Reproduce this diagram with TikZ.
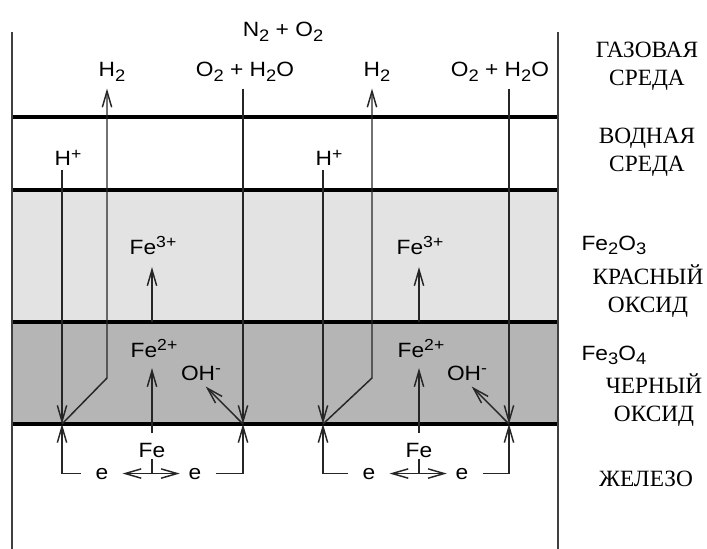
\documentclass[tikz,border=0pt]{standalone}
\usepackage{fontspec}
\setmainfont{Liberation Serif}
\setsansfont{Liberation Sans}[FakeStretch=1.1]
\usetikzlibrary{arrows.meta}

\definecolor{redox}{gray}{0.89}
\definecolor{blackox}{gray}{0.71}
\newcommand{\chsub}[1]{\raisebox{-3.5pt}{\fontsize{12.5}{13}\selectfont #1}}
\newcommand{\chsup}[1]{\raisebox{5pt}{\fontsize{12}{13}\selectfont #1}}

\tikzset{
  chem/.style={font=\sffamily\fontsize{15.5}{18}\selectfont, inner sep=1pt, anchor=base},
  layer/.style={font=\fontsize{17.5}{21}\selectfont, align=center},
  bound/.style={line width=2.4pt},
  flow/.style={line width=1.1pt, black!85, -{Straight Barb[length=12pt,width=7pt]}},
  dflow/.style={line width=1.1pt, black!85, {Straight Barb[length=12pt,width=7pt]}-{Straight Barb[length=12pt,width=7pt]}},
}

\begin{document}
\begin{tikzpicture}[x=0.75pt, y=-0.75pt]
  \useasboundingbox (0,0) rectangle (707,549);
  % слои оксидов
  \fill[redox] (12,190) rectangle (558,322);
  \fill[blackox] (12,322) rectangle (558,424);
  % границы сред
  \foreach \y in {117, 190, 322, 424} { \draw[bound] (12,\y) -- (558,\y); }
  \foreach \x in {12, 558} { \draw[line width=1.5pt, black!75] (\x,32) -- (\x,549); }
  \node[chem] (air) at (283,37) {N\chsub{2} + O\chsub{2}};
  % две ячейки: линии H+, H2, Fe, O2 + H2O
  \foreach \i/\xh/\xk/\xf/\xo/\xt in {a/62/107/152/243/245, b/323/372/419/509/500} {
    \coordinate (jl\i) at (\xh,424);
    \coordinate (jr\i) at (\xo,424);
    \coordinate (kink\i) at (\xk,378);
    \coordinate (ox\i) at (\xf,322);
    \node[chem] (hp\i) at (\xh+6,166) {H\chsup{+}};
    \node[chem] (h2\i) at (\xk+5,77) {H\chsub{2}};
    \node[chem] (o2\i) at (\xt,77) {O\chsub{2} + H\chsub{2}O};
    \node[chem] (fe3\i) at (\xf+1,254) {Fe\chsup{3+}};
    \node[chem] (fe2\i) at (\xf+2,357) {Fe\chsup{2+}};
    \node[chem] (oh\i) at (\xo-42,380) {OH\chsup{-}};
    \node[chem] (fe\i) at (\xf,457) {Fe};
    \node[chem] (el\i) at (\xf-50,479) {e};
    \node[chem] (er\i) at (\xf+43,479) {e};
    \draw[flow, shorten <=2pt] (jl\i |- hp\i.south) -- (jl\i);
    \draw[flow, shorten >=4pt] (jl\i) -- (kink\i) -- (kink\i |- h2\i.south);
    \draw[flow, shorten <=4pt] (jr\i |- o2\i.south) -- (jr\i);
    \draw[flow, shorten >=8.5pt] (ox\i) -- (ox\i |- fe3\i.south);
    \draw[flow, shorten <=6pt, shorten >=7pt] (fe\i.north) -- (fe\i.north |- fe2\i.south);
    \draw[flow, shorten >=5pt] (jr\i) -- (oh\i.south);
    % электроны
    \draw[line width=1.1pt, black!85] (fe\i.south) -- (fe\i.south |- el\i.west);
    \draw[dflow, shorten <=9.5pt, shorten >=5.5pt] (el\i.east) -- (er\i.west);
    \draw[flow, shorten <=10pt] (el\i.west) -- (el\i.west -| jl\i) -- (jl\i);
    \draw[flow, shorten <=9.5pt] (er\i.east) -- (er\i.east -| jr\i) -- (jr\i);
  }
  % подписи слоёв
  \node[layer] (gas) at (647,66) {ГАЗОВАЯ\\СРЕДА};
  \node[layer] (water) at (647,152) {ВОДНАЯ\\СРЕДА};
  \node[chem, anchor=base west] (fe2o3) at (580,250) {Fe\chsub{2}O\chsub{3}};
  \node[layer] (red) at (648,291) {КРАСНЫЙ\\ОКСИД};
  \node[chem, anchor=base west] (fe3o4) at (580,360) {Fe\chsub{3}O\chsub{4}};
  \node[layer] (blk) at (654,400) {ЧЕРНЫЙ\\ОКСИД};
  \node[layer] (iron) at (646,479) {ЖЕЛЕЗО};
\end{tikzpicture}
\end{document}
